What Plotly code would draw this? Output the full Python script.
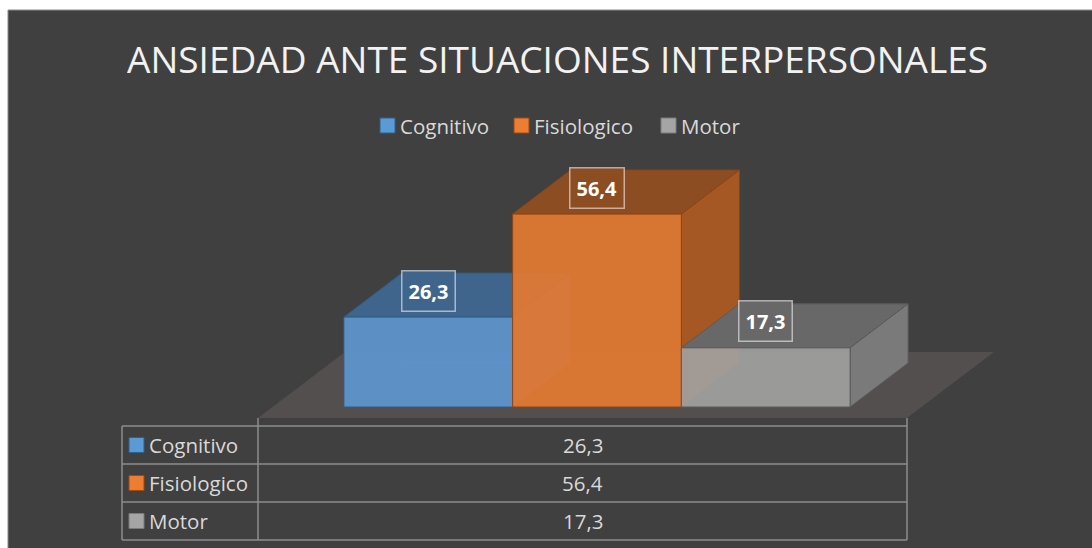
import plotly.graph_objects as go

# ---------------- data ----------------
title_text = "ANSIEDAD ANTE SITUACIONES INTERPERSONALES"
categories = ["Cognitivo", "Fisiologico", "Motor"]
values = [26.3, 56.4, 17.3]
value_labels = ["26,3", "56,4", "17,3"]

# ---------------- style ----------------
W, H = 1092, 548
BG = "#404040"
TXT = "#d9d9d9"
FONT = "Open Sans"
front_col = ["rgba(94,151,208,0.92)", "rgba(228,122,50,0.92)", "rgba(162,162,162,0.9)"]
top_col = ["#3f658d", "#8c4d23", "#686868"]
side_col = ["#4a77a6", "#a65824", "#7a7a7a"]
edge_col = ["#2e5b86", "#8f4413", "#5a5a5a"]
legend_sq = ["#5b9bd5", "#ed7d31", "#a5a5a5"]
legend_sq_border = ["#2f5f8f", "#9e4a10", "#7a7a7a"]

# scales (px per unit) and projection
PX_X = 649.0           # pixels per category slot
K = 3.42               # pixels per value unit
X_LEFT = 258.0         # slot start (px)
Y_FLOOR = 418.0        # floor front (px)
DX = 87.0 / PX_X       # full floor depth in x units
DY = 66.0 / K          # full floor depth in value units
D0, D1 = 1 / 6, 5 / 6  # bar depth extent
GROUP = 0.78
bw = GROUP / len(values)
x_start = (1 - GROUP) / 2


def proj(x, v, d):
    return x + d * DX, v + d * DY


def poly(pts):
    xs, ys = zip(*[proj(*p) for p in pts])
    return list(xs) + [xs[0]], list(ys) + [ys[0]]


fig = go.Figure()

# floor
fx, fy = poly([(0, 0, 0), (1, 0, 0), (1, 0, 1), (0, 0, 1)])
fig.add_trace(go.Scatter(x=fx, y=fy, fill="toself", mode="lines",
                         fillcolor="#524f4e", line=dict(width=0, color="#524f4e"),
                         hoverinfo="skip", showlegend=False))

for i, v in enumerate(values):
    x0 = x_start + i * bw
    x1 = x0 + bw
    # hidden back edges (seen through translucent front)
    for seg in [[(x0, 0, D0), (x0, 0, D1)], [(x0, 0, D1), (x0, v, D1)],
                [(x0, 0, D1), (x1, 0, D1)]]:
        sx, sy = zip(*[proj(*p) for p in seg])
        fig.add_trace(go.Scatter(x=list(sx), y=list(sy), mode="lines",
                                 line=dict(width=1, color=edge_col[i]), opacity=0.35,
                                 hoverinfo="skip", showlegend=False))
    faces = [
        ([(x0, v, D0), (x1, v, D0), (x1, v, D1), (x0, v, D1)], top_col[i]),
        ([(x1, 0, D0), (x1, 0, D1), (x1, v, D1), (x1, v, D0)], side_col[i]),
        ([(x0, 0, D0), (x1, 0, D0), (x1, v, D0), (x0, v, D0)], front_col[i]),
    ]
    for pts, col in faces:
        px_, py_ = poly(pts)
        fig.add_trace(go.Scatter(x=px_, y=py_, fill="toself", mode="lines",
                                 fillcolor=col, line=dict(width=1, color=edge_col[i]),
                                 hoverinfo="skip", showlegend=False))

# data labels
for i, v in enumerate(values):
    xc = x_start + (i + 0.5) * bw + D0 * DX
    yc = v + D0 * DY + 0.6 * (D1 - D0) * DY
    fig.add_annotation(x=xc, y=yc, xref="x", yref="y", text="<b>%s</b>" % value_labels[i],
                       showarrow=False, font=dict(family=FONT, size=20, color="white"),
                       bgcolor=top_col[i], bordercolor="rgba(255,255,255,0.55)",
                       borderwidth=1.5, borderpad=6)


def xp(px):
    return px / W


def yp(py):
    return 1 - py / H


shapes = []
# chart frame
shapes.append(dict(type="rect", xref="paper", yref="paper", x0=xp(8), x1=1.02,
                   y0=-0.02, y1=yp(10), fillcolor=BG, line=dict(color="#8a8a8a", width=1),
                   layer="below"))

# title
fig.add_annotation(x=xp(557), y=yp(58), xref="paper", yref="paper", text=title_text,
                   showarrow=False, font=dict(family=FONT, size=37, color="#f2f2f2"),
                   xanchor="center", yanchor="middle")

# legend
leg_sq_x = [380, 514, 661]
for i, c in enumerate(categories):
    shapes.append(dict(type="rect", xref="paper", yref="paper",
                       x0=xp(leg_sq_x[i]), x1=xp(leg_sq_x[i] + 15), y0=yp(133), y1=yp(118),
                       fillcolor=legend_sq[i], line=dict(color=legend_sq_border[i], width=1)))
    fig.add_annotation(x=xp(leg_sq_x[i] + 18), y=yp(126), xref="paper", yref="paper",
                       text=c, showarrow=False, xanchor="left", yanchor="middle",
                       font=dict(family=FONT, size=20.5, color=TXT))

# data table
TL, TD, TR = 122, 258, 907
row_y = [426, 464, 502, 540]
LC = "#8c8c8c"
for ry in row_y:
    shapes.append(dict(type="line", xref="paper", yref="paper", x0=xp(TL), x1=xp(TR),
                       y0=yp(ry), y1=yp(ry), line=dict(color=LC, width=1.5)))
shapes.append(dict(type="line", xref="paper", yref="paper", x0=xp(TL), x1=xp(TL),
                   y0=yp(row_y[0]), y1=yp(row_y[-1]), line=dict(color=LC, width=1.5)))
for vx in (TD, TR):
    shapes.append(dict(type="line", xref="paper", yref="paper", x0=xp(vx), x1=xp(vx),
                       y0=yp(Y_FLOOR), y1=yp(row_y[-1]), line=dict(color=LC, width=1.5)))
for i, c in enumerate(categories):
    cy = (row_y[i] + row_y[i + 1]) / 2
    shapes.append(dict(type="rect", xref="paper", yref="paper", x0=xp(129), x1=xp(144),
                       y0=yp(cy + 7.5), y1=yp(cy - 7.5), fillcolor=legend_sq[i],
                       line=dict(color=legend_sq_border[i], width=1)))
    fig.add_annotation(x=xp(147), y=yp(cy), xref="paper", yref="paper", text=c,
                       showarrow=False, xanchor="left", yanchor="middle",
                       font=dict(family=FONT, size=20.5, color=TXT))
    fig.add_annotation(x=xp((TD + TR) / 2), y=yp(cy), xref="paper", yref="paper",
                       text=value_labels[i], showarrow=False, xanchor="center",
                       yanchor="middle", font=dict(family=FONT, size=20.5, color=TXT))

fig.update_layout(
    width=W, height=H, margin=dict(l=0, r=0, t=0, b=0),
    paper_bgcolor="white", plot_bgcolor="rgba(0,0,0,0)",
    shapes=shapes, showlegend=False,
    xaxis=dict(range=[-X_LEFT / PX_X, (W - X_LEFT) / PX_X], visible=False, fixedrange=True),
    yaxis=dict(range=[-(H - Y_FLOOR) / K, Y_FLOOR / K], visible=False, fixedrange=True),
)

fig.write_html("out.html", config={"displayModeBar": False, "staticPlot": True},
               post_script="document.body.style.margin='0';document.body.style.overflow='hidden';")
